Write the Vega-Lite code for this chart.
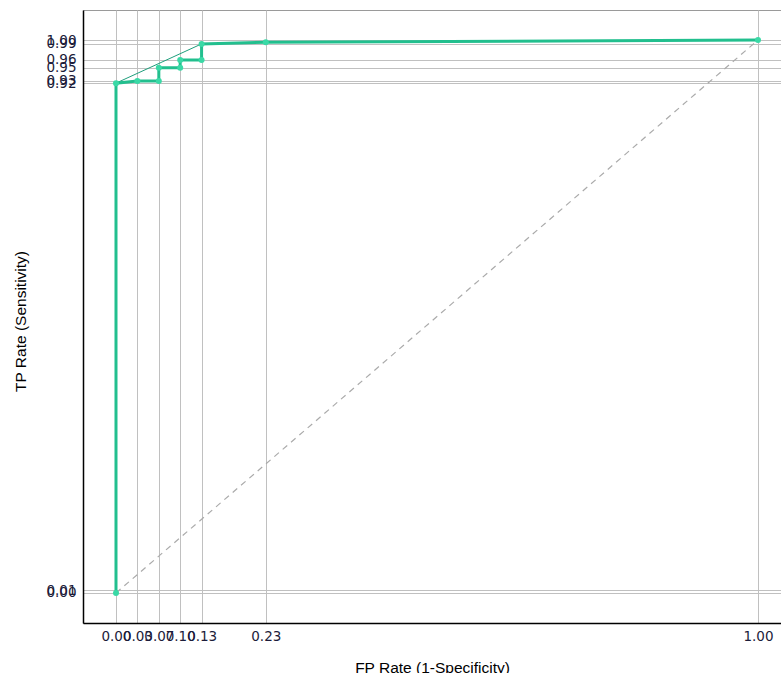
{
  "$schema": "https://vega.github.io/schema/vega-lite/v6.json",
  "width": 708,
  "height": 613,
  "autosize": {"type": "none"},
  "padding": {"left": 83, "top": 10, "right": 0, "bottom": 50},
  "background": "white",
  "config": {
    "view": {"stroke": "#9a9a9a", "strokeWidth": 1},
    "axis": {
      "domainColor": "#000000",
      "domainWidth": 1.5,
      "gridColor": "#c0c0c0",
      "gridWidth": 1,
      "ticks": false,
      "labelFont": "DejaVu Sans",
      "labelFontSize": 13.5,
      "labelColor": "#1c1c3a",
      "labelOverlap": false,
      "labelBound": false,
      "labelFlush": false,
      "titleFont": "Liberation Sans",
      "titleFontSize": 15.5,
      "titleFontWeight": "normal",
      "titleColor": "#000000"
    }
  },
  "datasets": {
    "curve": [
      {"i": 0, "fpr": 0, "tpr": 0},
      {"i": 1, "fpr": 0, "tpr": 0.922},
      {"i": 2, "fpr": 0.0333, "tpr": 0.926},
      {"i": 3, "fpr": 0.0667, "tpr": 0.926},
      {"i": 4, "fpr": 0.0667, "tpr": 0.95},
      {"i": 5, "fpr": 0.1, "tpr": 0.95},
      {"i": 6, "fpr": 0.1, "tpr": 0.964},
      {"i": 7, "fpr": 0.1333, "tpr": 0.964},
      {"i": 8, "fpr": 0.1333, "tpr": 0.993},
      {"i": 9, "fpr": 0.2333, "tpr": 0.996},
      {"i": 10, "fpr": 1, "tpr": 1}
    ],
    "hull": [
      {"i": 0, "fpr": 0, "tpr": 0},
      {"i": 1, "fpr": 0, "tpr": 0.922},
      {"i": 2, "fpr": 0.1333, "tpr": 0.993},
      {"i": 3, "fpr": 0.2333, "tpr": 0.996},
      {"i": 4, "fpr": 1, "tpr": 1}
    ],
    "diag": [
      {"fpr": 0, "tpr": 0},
      {"fpr": 1, "tpr": 1}
    ]
  },
  "encoding": {
    "x": {
      "field": "fpr",
      "type": "quantitative",
      "scale": {"domain": [-0.0514, 1.0514], "nice": false, "zero": false},
      "axis": {
        "title": "FP Rate (1-Specificity)",
        "values": [0, 0.0333, 0.0667, 0.1, 0.1333, 0.2333, 1],
        "format": ".2f",
        "labelPadding": 6,
        "titleX": 349,
        "titleY": 37,
        "titleAnchor": null,
        "titleAlign": "center",
        "titleBaseline": "top"
      }
    },
    "y": {
      "field": "tpr",
      "type": "quantitative",
      "scale": {"domain": [-0.0543, 1.0543], "nice": false, "zero": false},
      "axis": {
        "title": "TP Rate (Sensitivity)",
        "values": [0, 0.005, 0.922, 0.926, 0.95, 0.964, 0.993, 1],
        "format": ".2f",
        "labelPadding": 7,
        "titleX": -63,
        "titleY": 311,
        "titleAngle": 270,
        "titleAlign": "center",
        "titleBaseline": "middle"
      }
    }
  },
  "layer": [
    {
      "data": {"name": "diag"},
      "mark": {"type": "line", "color": "#aaaaaa", "strokeWidth": 1.2, "strokeDash": [6, 5]}
    },
    {
      "data": {"name": "hull"},
      "mark": {"type": "line", "color": "#1f9e7c", "strokeWidth": 1},
      "encoding": {"order": {"field": "i", "type": "quantitative"}}
    },
    {
      "data": {"name": "curve"},
      "mark": {"type": "line", "color": "#22bf8e", "strokeWidth": 3},
      "encoding": {"order": {"field": "i", "type": "quantitative"}}
    },
    {
      "data": {"name": "curve"},
      "mark": {"type": "point", "filled": true, "color": "#3ad9a6", "size": 36, "opacity": 1}
    }
  ]
}
